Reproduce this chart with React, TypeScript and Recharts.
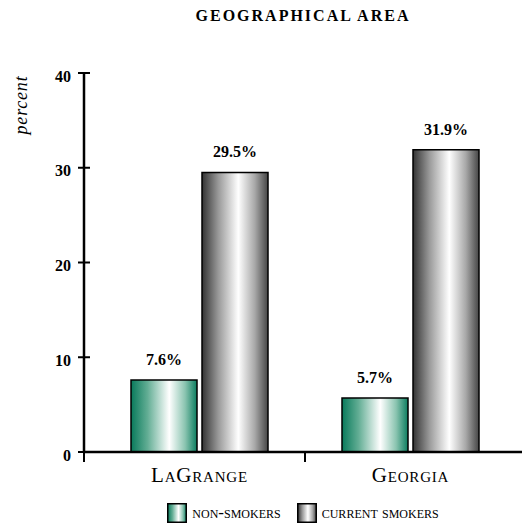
import React from 'react';
import { BarChart, Bar, XAxis, YAxis, LabelList } from 'recharts';

const categories = ['LaGrange', 'Georgia'];
const nonSmokers = [7.6, 5.7];
const currentSmokers = [29.5, 31.9];
const yTicks = [0, 10, 20, 30, 40];
const seriesNames = ['non-smokers', 'current smokers'];

const data = categories.map((c, i) => ({
  name: c,
  non: nonSmokers[i],
  cur: currentSmokers[i],
}));

const W = 523;
const H = 526;
const MARGIN = { top: 73, right: 1, left: 24, bottom: 44 };
const YAXIS_W = 60;
const XAXIS_H = 30;
const PAD = { left: 10, right: 6 };
const PLOT_LEFT = MARGIN.left + YAXIS_W;
const PLOT_W = W - MARGIN.right - PLOT_LEFT;
const BAND = (PLOT_W - PAD.left - PAD.right) / categories.length;
const FONT = '"Liberation Serif", "Times New Roman", serif';

const YTick = (props: any) => {
  const { x, y, payload } = props;
  const axisX = x + 6 + 7;
  return (
    <g>
      <line x1={axisX - 6} x2={axisX + 6} y1={y} y2={y} stroke="#000" strokeWidth={2} />
      <text x={x} y={y + 3} dy="0.35em" textAnchor="end" fontFamily={FONT} fontWeight="bold" fontSize={16} fill="#000">
        {payload.value}
      </text>
    </g>
  );
};

const XTick = (props: any) => {
  const { x, y, payload, index } = props;
  const axisY = y - 10 - 5;
  const bx = index === 0 ? PLOT_LEFT : x - BAND / 2;
  return (
    <g>
      <line x1={bx} x2={bx} y1={axisY} y2={axisY + 10} stroke="#000" strokeWidth={2} />
      <text
        x={x}
        y={y}
        dy="0.71em"
        textAnchor="middle"
        fontFamily={FONT}
        fontSize={21}
        letterSpacing={0.8}
        fill="#000"
        style={{ fontVariant: 'small-caps' }}
      >
        {payload.value}
      </text>
    </g>
  );
};

const LegendIcon = ({ grad }: { grad: string }) => (
  <svg width={20} height={20} style={{ display: 'block' }}>
    <rect x={0.75} y={0.75} width={18.5} height={18.5} fill={`url(#${grad})`} stroke="#000" strokeWidth={1.5} />
  </svg>
);

const labelFmt = (v: any) => `${Number(v).toFixed(1)}%`;
const labelStyle = { fontFamily: FONT, fontWeight: 'bold', fontSize: 16, fill: '#000' };

export default function App() {
  return (
    <div style={{ position: 'absolute', left: 0, top: 0, width: W, height: H, background: '#fff' }}>
      <div
        style={{
          position: 'absolute',
          left: PLOT_LEFT,
          width: PLOT_W,
          top: 7,
          textAlign: 'center',
          fontFamily: FONT,
          fontWeight: 'bold',
          fontSize: 16,
          letterSpacing: 2,
          color: '#000',
          whiteSpace: 'nowrap',
        }}
      >
        GEOGRAPHICAL AREA
      </div>
      <div
        style={{
          position: 'absolute',
          left: 21,
          top: 105,
          transform: 'translate(-50%, -50%) rotate(-90deg)',
          fontFamily: FONT,
          fontStyle: 'italic',
          fontSize: 18,
          letterSpacing: 0.8,
          color: '#000',
          whiteSpace: 'nowrap',
        }}
      >
        percent
      </div>
      <BarChart width={W} height={H} data={data} margin={MARGIN} barSize={66} barGap={5}>
        <defs>
          <linearGradient id="gGreen" x1="0" y1="0" x2="1" y2="0">
            <stop offset="0%" stopColor="#087a5b" />
            <stop offset="25%" stopColor="#62ad94" />
            <stop offset="58%" stopColor="#ffffff" />
            <stop offset="82%" stopColor="#8ac4b0" />
            <stop offset="100%" stopColor="#0b7d5f" />
          </linearGradient>
          <linearGradient id="gGray" x1="0" y1="0" x2="1" y2="0">
            <stop offset="0%" stopColor="#333333" />
            <stop offset="25%" stopColor="#9a9a9a" />
            <stop offset="55%" stopColor="#ffffff" />
            <stop offset="80%" stopColor="#a8a8a8" />
            <stop offset="100%" stopColor="#454545" />
          </linearGradient>
        </defs>
        <XAxis
          dataKey="name"
          height={XAXIS_H}
          padding={PAD}
          axisLine={{ stroke: '#000', strokeWidth: 2.5 }}
          tickLine={false}
          tickSize={10}
          tickMargin={5}
          tick={<XTick />}
          interval={0}
        />
        <YAxis
          domain={[0, 40]}
          ticks={yTicks}
          width={YAXIS_W}
          axisLine={{ stroke: '#000', strokeWidth: 2.5 }}
          tickLine={false}
          tickSize={6}
          tickMargin={7}
          tick={<YTick />}
          interval={0}
        />
        <Bar dataKey="non" name={seriesNames[0]} fill="url(#gGreen)" stroke="#000" strokeWidth={1.5} isAnimationActive={false}>
          <LabelList dataKey="non" position="top" offset={15} formatter={labelFmt} style={labelStyle} />
        </Bar>
        <Bar dataKey="cur" name={seriesNames[1]} fill="url(#gGray)" stroke="#000" strokeWidth={1.5} isAnimationActive={false}>
          <LabelList dataKey="cur" position="top" offset={15} formatter={labelFmt} style={labelStyle} />
        </Bar>
      </BarChart>
      <div
        style={{
          position: 'absolute',
          left: PLOT_LEFT,
          width: PLOT_W,
          top: 503,
          height: 20,
          display: 'flex',
          justifyContent: 'center',
          alignItems: 'center',
          fontFamily: FONT,
          fontSize: 17,
          color: '#000',
        }}
      >
        <div style={{ display: 'flex', alignItems: 'center', marginRight: 16 }}>
          <LegendIcon grad="gGreen" />
          <span style={{ marginLeft: 5, fontVariant: 'small-caps' }}>{seriesNames[0]}</span>
        </div>
        <div style={{ display: 'flex', alignItems: 'center' }}>
          <LegendIcon grad="gGray" />
          <span style={{ marginLeft: 5, fontVariant: 'small-caps' }}>{seriesNames[1]}</span>
        </div>
      </div>
    </div>
  );
}
